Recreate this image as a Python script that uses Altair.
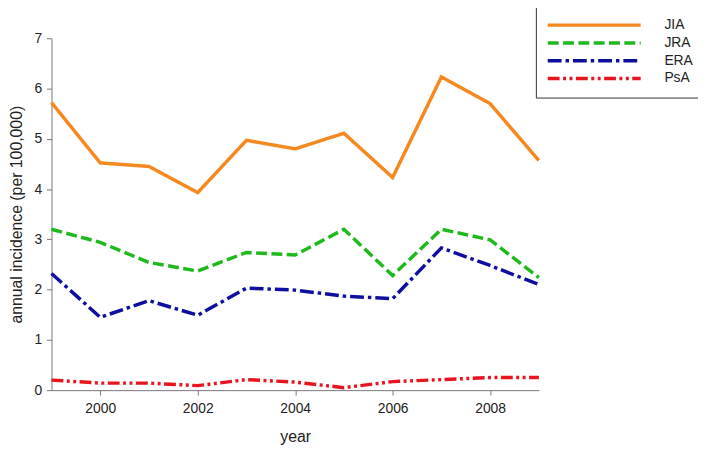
import altair as alt
import pandas as pd

years = [1999, 2000, 2001, 2002, 2003, 2004, 2005, 2006, 2007, 2008, 2009]
series_names = ["JIA", "JRA", "ERA", "PsA"]
jia = [5.72, 4.52, 4.45, 3.93, 4.97, 4.80, 5.11, 4.23, 6.23, 5.70, 4.57]
jra = [3.20, 2.94, 2.54, 2.37, 2.74, 2.69, 3.20, 2.28, 3.20, 2.99, 2.24]
era = [2.32, 1.45, 1.78, 1.49, 2.03, 1.99, 1.87, 1.82, 2.83, 2.48, 2.10]
psa = [0.20, 0.14, 0.14, 0.09, 0.21, 0.16, 0.05, 0.17, 0.21, 0.25, 0.25]
x_ticks = [2000, 2002, 2004, 2006, 2008]
y_ticks = [0, 1, 2, 3, 4, 5, 6, 7]

colors = ["#F5891F", "#1DB91D", "#0E0EA0", "#E8141E"]
dashes = [[1, 0], [11, 4.5], [14, 4, 3.5, 4], [12, 3.5, 3, 3.5, 3, 3.5]]

rows = []
for name, vals in zip(series_names, [jia, jra, era, psa]):
    for yr, v in zip(years, vals):
        rows.append({"year": yr, "value": v, "series": name})
df = pd.DataFrame(rows)

font = "Liberation Sans"

legend = alt.Legend(
    title=None,
    orient="none",
    legendX=490,
    legendY=-32,
    symbolType="stroke",
    symbolSize=94 * 94,
    symbolStrokeWidth=3.5,
    clipHeight=17.5,
    rowPadding=0,
    labelOffset=22,
    labelFont=font,
    labelFontSize=14,
    labelColor="#222222",
    padding=10,
    strokeColor="#333333",
    fillColor="white",
)

chart = (
    alt.Chart(df)
    .mark_line(strokeWidth=3.5, strokeCap="butt")
    .encode(
        x=alt.X(
            "year:Q",
            scale=alt.Scale(domain=[1999, 2009], nice=False, zero=False),
            axis=alt.Axis(values=x_ticks, format="d", title="year", grid=False,
                          labelPadding=7, titlePadding=13),
        ),
        y=alt.Y(
            "value:Q",
            scale=alt.Scale(domain=[0, 7], nice=False),
            axis=alt.Axis(values=y_ticks, title="annual incidence (per 100,000)",
                          grid=False, labelPadding=5, titlePadding=10),
        ),
        color=alt.Color("series:N", scale=alt.Scale(domain=series_names, range=colors),
                        legend=legend),
        strokeDash=alt.StrokeDash("series:N", scale=alt.Scale(domain=series_names, range=dashes),
                                  legend=legend),
        order=alt.Order("year:Q"),
    )
    .properties(
        width=493,
        height=356,
        autosize=alt.AutoSizeParams(type="none"),
        padding={"left": 44, "top": 28, "right": 161, "bottom": 63},
    )
    .configure_view(stroke=None)
    .configure_axis(
        domainColor="#777777",
        tickColor="#777777",
        tickSize=5,
        labelFont=font,
        labelFontSize=14,
        labelColor="#222222",
        titleFont=font,
        titleFontSize=16,
        titleFontWeight="normal",
        titleColor="#222222",
    )
)

chart.save("out.html", embed_options={"renderer": "svg", "actions": False})
